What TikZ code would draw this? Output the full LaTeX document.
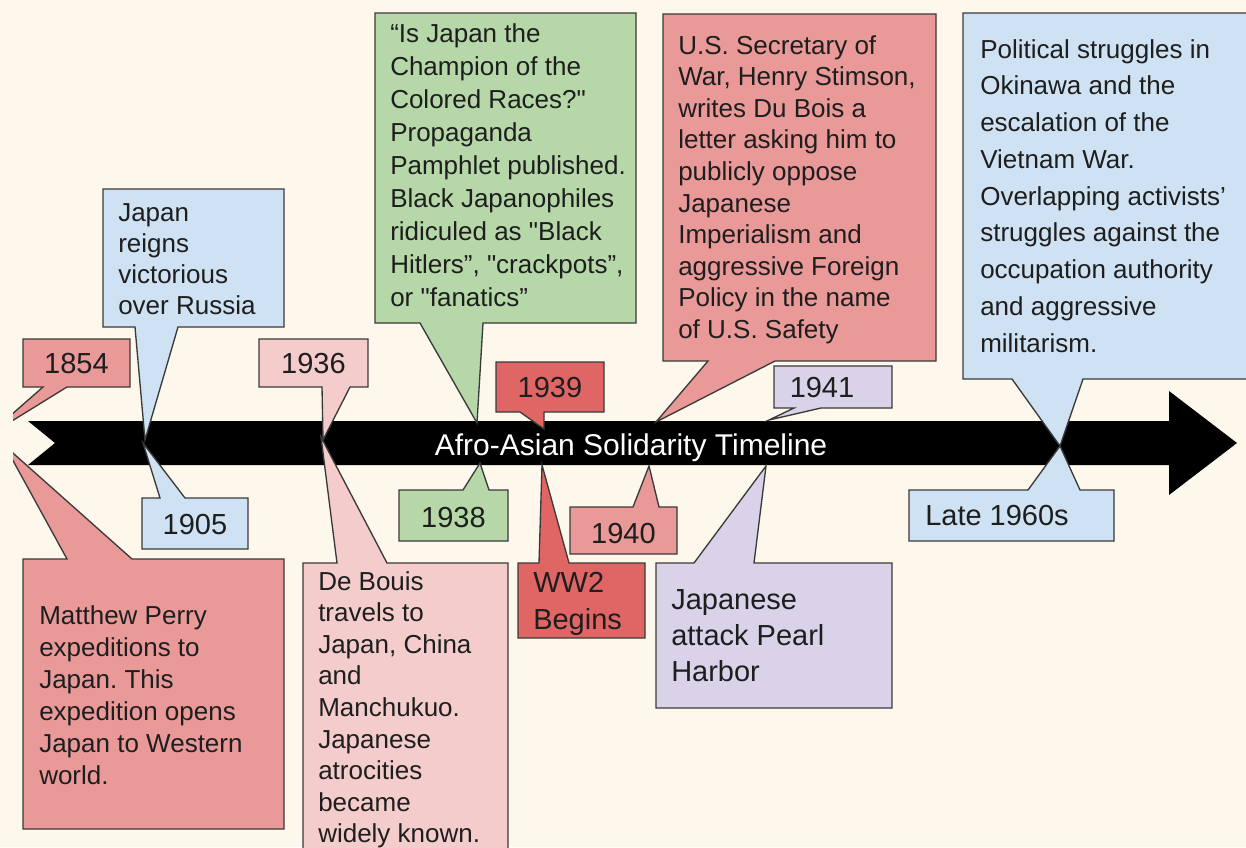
\documentclass[tikz,border=0pt]{standalone}
\usepackage{fontspec}
\newfontfamily\lib{Liberation Sans}
\definecolor{bg}{HTML}{FDF7EC}
\definecolor{edge}{HTML}{3A3A3A}
\definecolor{ink}{HTML}{1E1E1E}
\definecolor{redA}{HTML}{EA9999}
\definecolor{redB}{HTML}{F4CCCC}
\definecolor{redC}{HTML}{E06666}
\definecolor{blueA}{HTML}{CFE2F3}
\definecolor{greenA}{HTML}{B6D7A8}
\definecolor{purpA}{HTML}{D9D2E9}
\frenchspacing
\begin{document}
\begin{tikzpicture}[x={(0.75pt,0pt)},y={(0pt,-0.75pt)},
  call/.style={draw=edge,line width=1pt,line join=miter},
  txt/.style={inner sep=0pt,text=ink,align=left,anchor=north west,font=\lib\frenchspacing\fontsize{19.5}{24}\selectfont},
  bigtxt/.style={inner sep=0pt,text=ink,align=left,anchor=north west,font=\lib\fontsize{21.75}{27}\selectfont},
  yr/.style={inner sep=0pt,text=ink,anchor=base,font=\lib\fontsize{21.75}{26}\selectfont}]
\useasboundingbox (0,0) rectangle (1246,847);
\fill[bg] (0,0) rectangle (1246,847);
\begin{scope}
\clip (13,0) rectangle (1246,847);
% main arrow
\fill[black] (28,421) -- (1169,421) -- (1169,391) -- (1237,443) -- (1169,495) -- (1169,465) -- (28,465) -- (55,443) -- cycle;
% 1854
\filldraw[call,fill=redA] (23,339) -- (130,339) -- (130,387) -- (67,387) -- (-14,437) -- (43,387) -- (23,387) -- cycle;
\node[yr] (y1854) at (76.5,373) {1854};
% Perry
\filldraw[call,fill=redA] (23,559) -- (67,559) -- (5,446) -- (132,559) -- (284,559) -- (284,829) -- (23,829) -- cycle;
\node[txt] (perry) at (39,605) {Matthew Perry\\expeditions to\\Japan. This\\expedition opens\\Japan to Western\\world.};
% Japan reigns
\filldraw[call,fill=blueA] (103,189) -- (284,189) -- (284,327) -- (178,327) -- (145,440) -- (135,327) -- (103,327) -- cycle;
\node[txt,font=\lib\fontsize{19.5}{23.25}\selectfont] (russia) at (118,203) {Japan\\reigns\\victorious\\over Russia};
% 1905
\filldraw[call,fill=blueA] (142,498) -- (160,498) -- (143,443) -- (185,498) -- (248,498) -- (248,549) -- (142,549) -- cycle;
\node[yr] (y1905) at (195,534) {1905};
% 1936
\filldraw[call,fill=redB] (259,339) -- (368,339) -- (368,387) -- (350,387) -- (323,440) -- (322,387) -- (259,387) -- cycle;
\node[yr] (y1936) at (313.5,373) {1936};
% De Bouis
\filldraw[call,fill=redB] (303,563) -- (337,563) -- (321,437) -- (387,563) -- (508,563) -- (508,870) -- (303,870) -- cycle;
\node[txt,font=\lib\fontsize{19.5}{23.7}\selectfont] (debouis) at (318,571) {De Bouis\\travels to\\Japan, China\\and\\Manchukuo.\\Japanese\\atrocities\\became\\widely known.};
% green pamphlet
\filldraw[call,fill=greenA] (375,13) -- (636,13) -- (636,323) -- (483,323) -- (477,423) -- (420,323) -- (375,323) -- cycle;
\node[txt,font=\lib\fontsize{19.5}{24.75}\selectfont] (pamphlet) at (390,23) {“Is Japan the\\Champion of the\\Colored Races?"\\Propaganda\\Pamphlet published.\\Black Japanophiles\\ridiculed as "Black\\Hitlers”, "crackpots”,\\or "fanatics”};
% 1938
\filldraw[call,fill=greenA] (399,490) -- (463,490) -- (480,463) -- (489,490) -- (508,490) -- (508,541) -- (399,541) -- cycle;
\node[yr] (y1938) at (453.5,527) {1938};
% 1939
\filldraw[call,fill=redC] (496,362) -- (604,362) -- (604,412) -- (544,412) -- (544,429) -- (520,412) -- (496,412) -- cycle;
\node[yr] (y1939) at (550,397) {1939};
% WW2
\filldraw[call,fill=redC] (518,563) -- (539,563) -- (542,465) -- (569,563) -- (645,563) -- (645,638) -- (518,638) -- cycle;
\node[bigtxt,font=\lib\fontsize{21.75}{27.5}\selectfont] (ww2) at (533,572) {WW2\\Begins};
% 1940
\filldraw[call,fill=redA] (570,507) -- (633,507) -- (649,466) -- (659,507) -- (677,507) -- (677,554) -- (570,554) -- cycle;
\node[yr] (y1940) at (623.5,543) {1940};
% Stimson
\filldraw[call,fill=redA] (663,14) -- (936,14) -- (936,361) -- (775,361) -- (656,422) -- (708,361) -- (663,361) -- cycle;
\node[txt,font=\lib\fontsize{19.5}{23.7}\selectfont] (stimson) at (678,35) {U.S. Secretary of\\War, Henry Stimson,\\writes Du Bois a\\letter asking him to\\publicly oppose\\Japanese\\Imperialism and\\aggressive Foreign\\Policy in the name\\of U.S. Safety};
% 1941
\filldraw[call,fill=purpA] (774,366) -- (892,366) -- (892,408) -- (821,408) -- (769,420) -- (794,408) -- (774,408) -- cycle;
\node[yr] (y1941) at (822,397) {1941};
% Pearl Harbor
\filldraw[call,fill=purpA] (656,563) -- (694,563) -- (766,466) -- (754,563) -- (892,563) -- (892,708) -- (656,708) -- cycle;
\node[bigtxt] (pearl) at (671,589) {Japanese\\attack Pearl\\Harbor};
% Right blue
\filldraw[call,fill=blueA] (963,13) -- (1260,13) -- (1260,379) -- (1083,379) -- (1060,446) -- (1012,379) -- (963,379) -- cycle;
\node[txt,font=\lib\fontsize{19.5}{27.56}\selectfont] (okinawa) at (980,39) {Political struggles in\\Okinawa and the\\escalation of the\\Vietnam War.\\Overlapping activists’\\struggles against the\\occupation authority\\and aggressive\\militarism.};
% Late 1960s
\filldraw[call,fill=blueA] (909,490) -- (1028,490) -- (1060,446) -- (1080,490) -- (1114,490) -- (1114,541) -- (909,541) -- cycle;
\node[yr,anchor=base west] (late) at (925,525) {Late 1960s};
% title
\node[inner sep=0pt,text=white,anchor=base,font=\lib\fontsize{22.5}{27}\selectfont] (title) at (631,455) {Afro-Asian Solidarity Timeline};
\end{scope}
\end{tikzpicture}
\end{document}
